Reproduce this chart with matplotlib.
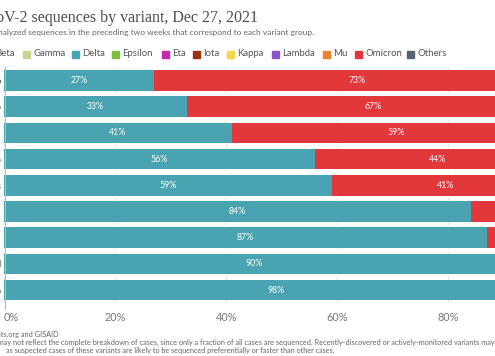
import matplotlib
matplotlib.use("Agg")
import matplotlib.pyplot as plt
from matplotlib.patches import Rectangle
import numpy as np

# ---------------- data ----------------
countries = ["Mexico", "Puerto Rico", "Canada", "France", "Netherlands",
             "Japan", "Singapore", "Poland", "Monaco"]
delta = [27, 33, 41, 56, 59, 84, 87, 90, 98]
omicron = [73, 67, 59, 44, 41, 16, 13, 10, 2]
variants = ["Beta", "Gamma", "Delta", "Epsilon", "Eta", "Iota", "Kappa",
            "Lambda", "Mu", "Omicron", "Others"]
variant_colors = ["#8f9fd6", "#c8d48d", "#4aa3b0", "#7bbf3c", "#c42aa8",
                  "#9b2f10", "#f6d54a", "#8a55c8", "#ea8330", "#e2383c",
                  "#5a6270"]
x_ticks = [0, 20, 40, 60, 80, 100]
x_tick_labels = ["0%", "20%", "40%", "60%", "80%", "100%"]

title = "SARS-CoV-2 sequences by variant, Dec 27, 2021"
subtitle = ("Share of analyzed sequences in the preceding two weeks that "
            "correspond to each variant group.")
source = "Source: CoVariants.org and GISAID"
note_prefix = "Note: This share "
note_line2 = ("may not reflect the complete breakdown of cases, since only a "
              "fraction of all cases are sequenced. Recently-discovered or "
              "actively-monitored variants may be overrepresented,")
note_line3 = ("as suspected cases of these variants are likely to be "
              "sequenced preferentially or faster than other cases.")

# ---------------- figure ----------------
W, H = 495, 356
fig = plt.figure(figsize=(W / 100, H / 100), dpi=100)
fig.patch.set_facecolor("white")

def fx(px):
    return px / W

def fy(py):
    return 1 - py / H

plt.rcParams["font.family"] = ["Lato", "DejaVu Sans"]

ax_left_px, ax_right_px = 4, 559.5
ax_top_px, ax_bot_px = 67.4, 303.2
ax = fig.add_axes([fx(ax_left_px), fy(ax_bot_px),
                   (ax_right_px - ax_left_px) / W,
                   (ax_bot_px - ax_top_px) / H])

teal = variant_colors[variants.index("Delta")]
red = variant_colors[variants.index("Omicron")]
y = np.arange(len(countries))
bh = 0.78
ax.barh(y, delta, height=bh, color=teal, zorder=2)
ax.barh(y, omicron, left=delta, height=bh, color=red, zorder=2)

for i in range(len(countries)):
    d, o = delta[i], omicron[i]
    ax.text(d / 2, i, f"{d}%", ha="center", va="center", color="white",
            fontsize=6.3, zorder=3)
    if o >= 20:
        ax.text(d + o / 2, i, f"{o}%", ha="center", va="center",
                color="white", fontsize=6.3, zorder=3)

ax.set_xlim(0, 100)
ax.set_ylim(len(countries) - 0.5, -0.5)
ax.set_yticks(y)
ax.set_yticklabels(countries, fontsize=7.5, color="#555555")
ax.set_xticks(x_ticks)
ax.set_xticklabels(x_tick_labels, fontsize=7.8, color="#777777")
ax.tick_params(axis="x", length=0, pad=6)
ax.tick_params(axis="y", length=0, pad=2)
lbls = ax.get_xticklabels()
lbls[0].set_horizontalalignment("left")
for s in ["top", "right", "bottom", "left"]:
    ax.spines[s].set_visible(False)
ax.grid(axis="x", color="#e8e8e8", lw=0.8, ls=(0, (4, 3)), zorder=0)
ax.set_axisbelow(True)

# left axis line extending below bars
fig.add_artist(plt.Line2D([fx(4.5), fx(4.5)], [fy(67), fy(309)],
                          color="#bbbbbb", lw=0.8))

# ---------------- header ----------------
fig.text(fx(258), fy(18), title, ha="right", va="center",
         fontsize=11.5, color="#4d4d4d", family=["Liberation Serif"])
fig.text(fx(314), fy(33), subtitle, ha="right", va="center",
         fontsize=6.0, color="#666666")

# legend
sq_left = [-15, 23, 72, 112, 162, 193, 227, 272, 323, 355, 407]
leg_y = 54
sq = 7
for name, col, xl in zip(variants, variant_colors, sq_left):
    fig.add_artist(Rectangle((fx(xl), fy(leg_y + sq / 2)), sq / W, sq / H,
                             transform=fig.transFigure, color=col,
                             clip_on=False))
    fig.text(fx(xl + 10.5), fy(leg_y), name, ha="left", va="center",
             fontsize=6.9, color="#555555")

# ---------------- footer ----------------
fs_note = 5.3
fig.text(fx(59), fy(334), source, ha="right", va="center",
         fontsize=fs_note, color="#666666")
fig.canvas.draw()
r = fig.canvas.get_renderer()
tmp = fig.text(0, 0, note_prefix, fontsize=fs_note)
pre_w = tmp.get_window_extent(r).width
tmp.remove()
fig.text(fx(-2 - pre_w), fy(342.5), note_prefix + note_line2, ha="left",
         va="center", fontsize=fs_note, color="#666666")
fig.text(fx(335), fy(351), note_line3, ha="right", va="center",
         fontsize=5.2, color="#666666")

fig.savefig("out.png", dpi=100)
